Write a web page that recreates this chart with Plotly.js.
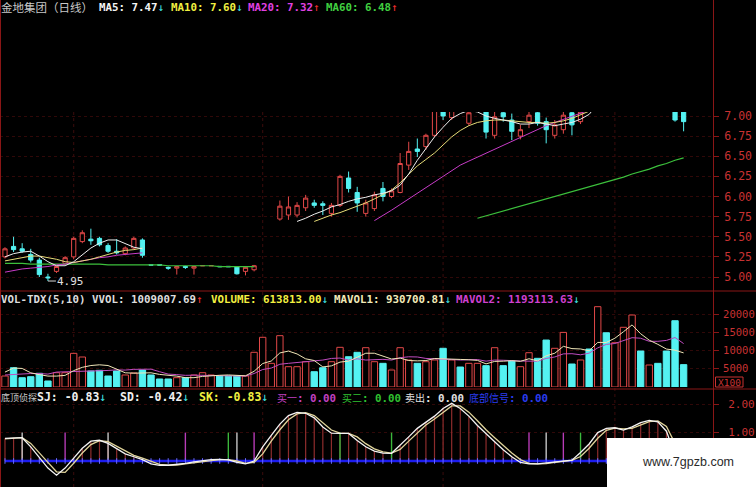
<!DOCTYPE html>
<html><head><meta charset="utf-8">
<script src="https://cdn.plot.ly/plotly-3.0.1.min.js"></script>
<style>html,body{margin:0;padding:0;background:#000;}#chart{width:756px;height:487px;}</style>
</head><body><div id="chart"></div>
<script>
// ---------------- DATA ----------------
const openP  = [5.25,5.38,5.35,5.28,5.21,5.00,5.07,5.17,5.25,5.44, 5.47,5.48,5.39,5.32,5.29,5.36,5.46,5.152,5.152,5.12,
                5.11,5.13,5.11,5.138,5.138,5.132,5.132,5.13,5.07,5.09, null,null,5.72,5.77,5.77,5.86,5.92,5.91,5.79,5.89,
                6.23,6.05,5.79,5.85,6.10,6.00,6.05,6.39,6.59,6.62, 6.76,7.20,6.98,7.30,6.91,7.08,7.15,6.76,7.04,6.95,
                6.75,6.93,7.04,6.93,6.76,6.83,7.04,6.93,7.30,null, null,null,null,null,null,null,null,null,7.10,7.08];
const highP  = [5.37,5.50,5.42,5.35,5.24,5.04,5.14,5.26,5.50,5.58, 5.60,5.50,5.42,5.47,5.38,5.50,5.48,5.152,5.152,5.13,
                5.13,5.14,5.13,5.142,5.142,5.132,5.132,5.13,5.13,5.15, null,null,5.95,6.00,5.93,6.02,5.96,5.94,5.92,6.27,
                6.31,6.12,5.96,6.06,6.18,6.10,6.54,6.68,6.72,6.78, 7.15,7.25,7.28,7.35,7.10,7.28,7.20,7.05,7.10,7.03,
                6.89,7.05,7.10,6.98,6.95,7.05,7.08,7.10,7.35,null, null,null,null,null,null,null,null,null,7.15,7.12];
const lowP   = [5.23,5.31,5.30,5.18,5.00,4.95,5.05,5.15,5.22,5.42, 5.40,5.38,5.30,5.28,5.27,5.34,5.24,5.148,5.148,5.09,
                5.03,5.10,5.03,5.138,5.138,5.128,5.128,5.03,5.02,5.07, null,null,5.70,5.71,5.74,5.82,5.86,5.77,5.75,5.87,
                6.05,5.81,5.75,5.82,5.94,5.98,6.04,6.33,6.49,6.58, 6.74,6.95,6.95,7.08,6.88,7.06,6.72,6.72,6.93,6.70,
                6.71,6.85,6.88,6.66,6.72,6.78,6.76,6.90,7.06,null, null,null,null,null,null,null,null,null,6.93,6.81];
const closeP = [5.35,5.34,5.32,5.21,5.03,4.99,5.13,5.24,5.48,5.55, 5.45,5.40,5.32,5.30,5.36,5.48,5.27,5.148,5.148,5.11,
                5.13,5.12,5.13,5.142,5.142,5.128,5.128,5.04,5.12,5.14, null,null,5.88,5.87,5.89,5.98,5.89,5.89,5.89,6.25,
                6.10,5.92,5.92,6.02,6.00,6.07,6.41,6.56,6.56,6.76, 7.10,7.00,7.20,7.12,7.04,7.22,6.80,6.99,6.99,6.81,
                6.83,7.01,6.91,6.83,6.89,7.01,6.89,7.05,7.10,null, null,null,null,null,null,null,null,null,6.95,6.93];

const ma5  = [5.25,5.29,5.31,5.32,5.26,5.19,5.14,5.14,5.19,5.27,5.36,5.42,5.46,5.46,5.41,5.37,5.35,
              null,null,null,null,null,null,null,null,null,null,null,null,null,null,null,null,null,
              5.69,5.73,5.78,5.82,5.87,5.90,5.94,5.97,5.99,6.02, 6.04,6.07,6.14,6.28,6.45,6.60,6.74,6.86,6.97,7.03,
              7.07,7.05,7.00,6.97,6.95,6.93,6.90,6.90,6.92,6.90, 6.88,6.90,6.92,6.96,7.02,7.15,7.25,7.35,7.45,7.55,
              7.62,7.68,7.70,7.65,7.58,7.47];
const ma10 = [5.20,5.22,5.24,5.26,5.26,5.24,5.22,5.19,5.18,5.20,5.22,5.25,5.28,5.31,5.33,5.34,5.36,
              null,null,null,null,null,null,null,null,null,null,null,null,null,null,null,null,null,null,null,
              5.69,5.73,5.77, 5.80,5.84,5.87,5.92,5.97,6.02,6.08,6.17,6.27,6.38, 6.46,6.54,6.64,6.74,6.82,6.88,6.92,6.94,6.95,6.95,
              6.94,6.93,6.92,6.92,6.91,6.92,6.94,6.97,7.01,7.06, 7.12,7.20,7.28,7.36,7.44,7.50,7.55,7.58,7.60,7.60];
const ma20 = [5.06,5.08,5.10,5.11,5.12,5.13,5.15,5.16,5.18,5.20,5.22,5.24,5.25,5.27,5.28,5.29,5.30,
              null,null,null,null,null,null,null,null,null,null,null,null,null,null,null,null,null,null,null,
              null,null,null,null,null,null,null,
              5.70,5.76,5.83,5.90,5.97,6.04, 6.11,6.18,6.25,6.32,6.39,6.44,6.49,6.54,6.59,6.64,
              6.69,6.74,6.79,6.84,6.88,6.92,6.96,7.00,7.04,7.08, 7.11,7.14,7.17,7.20,7.23,7.25,7.27,7.29,7.31,7.32];
const ma60 = [5.17,5.17,5.17,5.16,5.16,5.16,5.16,5.16,5.16,5.16, 5.16,5.16,5.15,5.15,5.15,5.15,5.15,5.15,5.15,5.14,
              5.14,5.14,5.14,5.14,5.14,5.13,5.13,5.13,5.13,5.13,
              null,null,null,null,null,null,null,null,null,null,null,null,null,null,null,null,null,null,null,null,null,null,null,null,null,
              5.73,5.76,5.79,5.82,5.85,5.88,5.91,5.94,5.97,6.00, 6.03,6.06,6.09,6.12,6.15,6.18,6.21,6.24,6.28,6.31,
              6.34,6.38,6.41,6.45,6.48];

// volume in hundreds of shares (X100)
const volume = [3020,5300,2550,2830,3760,1650,3930,3930,9250,8240, 4400,4580,3020,4400,3300,3850,4670,3300,2200,2200,
                2560,2560,3300,3930,3300,3020,3020,3020,3020,9530, 13650,6500,14100,5580,5580,6950,4200,5300,6950,10900,
                8320,9530,10800,6950,6500,4670,10800,7420,6500,6950, 7420,10630,7420,5490,6500,6500,5860,10800,5860,7140,
                5580,9420,7880,12900,10630,15000,6320,7420,10440,22060, 14900,12170,16400,19780,9890,6040,6500,9890,18210,6140];
const volUp  = [1,0,0,0,0,0,1,1,1,1, 0,0,0,0,1,1,0,0,0,0, 1,0,1,1,1,0,0,0,1,1, 1,1,1,1,1,1,0,0,1,1,
                0,0,1,1,0,1,1,1,0,1, 1,0,1,0,1,1,0,1,0,0, 1,1,0,0,1,1,0,1,0,1, 0,1,1,1,0,1,0,0,0,0];
const mavol1 = [4100,5200,5100,3900,3400,3000,3000,3200,4500,5400, 5900,6100,5900,4900,3900,3800,3850,3900,3460,3240,
                2990,2560,2560,2910,3130,3220,3310,3260,3080,4320, 6450,7140,9360,9870,9080,7740,7280,5520,5800,6840,
                7110,8180,9280,9280,8420,7690,7940,7270,7180,7270, 7820,7780,7780,7580,7490,7310,6350,7030,7100,7230,
                7050,7760,7180,8580,9280,11170,10550,10450,9960,12250, 12230,13400,15190,17060,14630,12860,11720,10420,10110,9370];
const mavol2 = [3300,3500,3700,3700,3700,3550,4100,4150,4200,4400, 4450,4550,4550,4700,4650,4850,4950,4900,4200,3550,
                3400,3200,3250,3200,3150,3100,2950,2900,3000,3700, 4800,5200,6250,6500,6700,7050,7200,7400,7850,7950,
                7400,7750,7400,7550,7600,7400,8050,8300,8250,7850, 7750,7850,7550,7400,7400,7550,7100,7400,7350,7350,
                7150,7100,7100,7850,8250,9100,9150,8850,9300,10750, 11700,11950,12850,13550,13400,12550,12550,12800,13600,11930];

// 底顶侦探 indicator
const sj = [0.80,0.82,0.82,0.50,0.12,-0.25,-0.50,-0.25,0.10,0.45, 0.70,0.73,0.62,0.42,0.25,0.15,0.05,-0.10,-0.15,-0.15,
            -0.12,-0.08,-0.03,0.02,0.05,0.06,0.04,-0.05,-0.10,0.00, 0.50,0.90,1.30,1.60,1.71,1.68,1.52,1.20,0.98,0.97,
            0.97,0.72,0.50,0.35,0.28,0.27,0.55,0.85,1.15,1.38, 1.58,1.85,2.03,1.85,1.58,1.25,0.95,0.68,0.40,0.15,
            -0.05,-0.10,-0.10,-0.07,-0.03,0.00,0.03,0.30,0.60,1.00, 1.15,1.17,1.09,1.20,1.35,1.43,1.38,1.05,0.20,-0.83];
const sd = [0.78,0.81,0.82,0.62,0.30,-0.05,-0.38,-0.40,-0.08,0.28, 0.58,0.72,0.68,0.52,0.34,0.20,0.10,-0.02,-0.12,-0.15,
            -0.14,-0.10,-0.06,-0.01,0.03,0.05,0.05,0.00,-0.08,-0.05, 0.25,0.70,1.10,1.45,1.66,1.70,1.60,1.36,1.09,0.98,
            0.97,0.85,0.61,0.43,0.32,0.28,0.41,0.70,1.00,1.27, 1.48,1.72,1.94,1.94,1.72,1.42,1.10,0.82,0.54,0.28,
            0.05,-0.08,-0.10,-0.09,-0.05,-0.02,0.02,0.16,0.45,0.80, 1.08,1.16,1.13,1.15,1.28,1.39,1.41,1.22,0.62,-0.42];
const buy1Idx = [7,21,29,61,65];     // 买一
const buy2Idx = [26,39,45,67];       // 买二
const sellIdx = [2,12,27,63];        // 卖出
const signalLevel = 1.0;
const monthStartIdx = [8,30,51,71];
const lowMarkIdx = 5, lowMarkValue = 4.95;

const priceTicks = [5.00,5.25,5.50,5.75,6.00,6.25,6.50,6.75,7.00];
const priceTickText = ['5.00','5.25','5.50','5.75','6.00','6.25','6.50','6.75','7.00'];
const volTicks = [5000,10000,15000,20000];
const volTickText = ['5000','10000','15000','20000'];
const indTicks = [1,2];
const indTickText = ['1.00','2.00'];

// ---------------- STYLE ----------------
const W = 756, H = 487;
const px = x => x / W;
const py = y => 1 - y / H;
const UP = '#e24848', DN = '#54f2f2';
const FRAME = '#8a1616', GRID = '#300808', TICK = '#c83232';
const MONO = 'DejaVu Sans Mono, monospace';
const CJK = 'Noto Sans CJK SC, sans-serif';
const idx = closeP.map((_, i) => i);

const traces = [];
traces.push({type:'candlestick', x:idx, open:openP, high:highP, low:lowP, close:closeP,
  xaxis:'x', yaxis:'y', whiskerwidth:0,
  increasing:{line:{color:UP,width:1}, fillcolor:'#000000'},
  decreasing:{line:{color:DN,width:1}, fillcolor:DN}, hoverinfo:'skip'});
const line = (y, color, ax, w) => ({type:'scatter', mode:'lines', x:idx, y:y, xaxis:'x', yaxis:ax,
  line:{color:color, width:w||1}, connectgaps:false, hoverinfo:'skip'});
traces.push(line(ma60, '#3cc03c', 'y', 1.2));
traces.push(line(ma20, '#c83cc8', 'y'));
traces.push(line(ma10, '#e6dc78', 'y'));
traces.push(line(ma5, '#eeeeee', 'y'));

traces.push({type:'bar', x:idx, y:volume, xaxis:'x', yaxis:'y2', width:0.74,
  marker:{color:volUp.map(u => u ? '#000000' : DN), line:{color:volUp.map(u => u ? UP : DN), width:1}}, hoverinfo:'skip'});
traces.push(line(mavol2, '#c04cc0', 'y2'));
traces.push(line(mavol1, '#f0e6b8', 'y2'));

traces.push({type:'bar', x:idx, y:sj.map(v => v > 0 ? v : 0), xaxis:'x', yaxis:'y3', width:0.14,
  marker:{color:'#8e2c2c', line:{width:0}}, hoverinfo:'skip'});
const sig = (list, color) => ({type:'bar', x:list, y:list.map(() => signalLevel), xaxis:'x', yaxis:'y3', width:0.16,
  marker:{color:color, line:{width:0}}, hoverinfo:'skip'});
traces.push(sig(buy1Idx, '#b83cb8'));
traces.push(sig(buy2Idx, '#3cb83c'));
traces.push(sig(sellIdx, '#c8c8c8'));
traces.push({type:'scatter', mode:'lines+markers', x:idx, y:idx.map(() => 0), xaxis:'x', yaxis:'y3',
  line:{color:'#1c1cf0', width:2.5}, marker:{symbol:'line-ns', size:4, color:'#6a6aff', line:{color:'#6a6aff', width:1}}, hoverinfo:'skip'});
traces.push(line(sd, '#e0d49a', 'y3', 1.3));
traces.push(line(sj, '#f4f4f4', 'y3', 1.3));

const yBase = {side:'right', anchor:'x', automargin:false, showline:false, zeroline:false,
  ticks:'outside', ticklen:5, tickcolor:FRAME, tickwidth:1,
  gridcolor:GRID, griddash:'dot', gridwidth:1, fixedrange:true};

const layout = {
  width:W, height:H, margin:{l:0, r:0, t:0, b:0, pad:0},
  paper_bgcolor:'#000000', plot_bgcolor:'#000000', showlegend:false, barmode:'overlay',
  xaxis:{domain:[0, px(713)], range:[-0.58, 82.42], visible:false, rangeslider:{visible:false}, fixedrange:true},
  yaxis:Object.assign({}, yBase, {domain:[py(290), py(112)], range:[4.8385, 7.0497],
    tickvals:priceTicks, ticktext:priceTickText, tickfont:{family:MONO, size:11.5, color:TICK}, ticklabelstandoff:3}),
  yaxis2:Object.assign({}, yBase, {domain:[py(387), py(296)], range:[0, 25000],
    tickvals:volTicks, ticktext:volTickText, tickfont:{family:MONO, size:10.5, color:TICK}, ticklabelstandoff:2}),
  yaxis3:Object.assign({}, yBase, {domain:[0, py(400)], range:[-0.915, 2.148],
    tickvals:indTicks, ticktext:indTickText, tickfont:{family:MONO, size:11, color:TICK}, ticklabelstandoff:7}),
  shapes:[], annotations:[]
};

// frame / separators
const hline = y => ({type:'line', xref:'paper', yref:'paper', x0:0, x1:1, y0:py(y), y1:py(y), line:{color:FRAME, width:1}});
layout.shapes.push(hline(291), hline(389));
layout.shapes.push({type:'line', xref:'paper', yref:'paper', x0:px(713.5), x1:px(713.5), y0:0, y1:1, line:{color:FRAME, width:1}});
layout.shapes.push({type:'line', xref:'paper', yref:'paper', x0:px(0.5), x1:px(0.5), y0:0, y1:1, line:{color:FRAME, width:1}});
monthStartIdx.forEach(i => layout.shapes.push({type:'line', xref:'x', yref:'paper', x0:i, x1:i, y0:0, y1:py(112),
  line:{color:'#3a0c0c', width:1, dash:'dot'}, layer:'below'}));
// watermark box
layout.shapes.push({type:'rect', xref:'paper', yref:'paper', x0:px(607), x1:1, y0:0, y1:py(438),
  fillcolor:'#ffffff', line:{width:0}, layer:'above'});
layout.shapes.push({type:'rect', xref:'paper', yref:'paper', x0:px(715.5), x1:px(743), y0:py(387), y1:py(377),
  line:{color:TICK, width:1}, layer:'above'});

const ann = (text, x, y, color, size, family) => ({xref:'paper', yref:'paper', x:px(x), y:py(y), xanchor:'left', yanchor:'middle',
  text:text, showarrow:false, borderpad:0, font:{family:family || MONO, size:size, color:color}});
const arr = (ch, c) => '<span style="color:' + c + '">' + ch + '</span>';
const cjk = t => '<span style="font-family:Noto Sans CJK SC;font-size:10px">' + t + '</span>';
const CY = '#40e8e8', RD = '#ff3030';
// row 1
layout.annotations.push(ann('金地集团（日线）', 0, 7, '#c8c8c8', 11.5, CJK));
layout.annotations.push(ann('<b>MA5: 7.47</b>' + arr('↓', CY), 98, 7, '#f4f4f4', 10.8));
layout.annotations.push(ann('<b>MA10: 7.60</b>' + arr('↓', CY), 170, 7, '#f0f040', 10.8));
layout.annotations.push(ann('<b>MA20: 7.32</b>' + arr('↑', RD), 247, 7, '#e040e0', 10.8));
layout.annotations.push(ann('<b>MA60: 6.48</b>' + arr('↑', RD), 325, 7, '#40d040', 10.8));
// row 2
layout.annotations.push(ann('<b>VOL-TDX(5,10) VVOL: 1009007.69</b>' + arr('↑', RD), 0, 299, '#dcdcdc', 10.8));
layout.annotations.push(ann('<b>VOLUME: 613813.00</b>' + arr('↓', CY), 210, 299, '#f4f040', 10.8));
layout.annotations.push(ann('<b>MAVOL1: 930700.81</b>' + arr('↓', CY), 333, 299, '#f2eab8', 10.8));
layout.annotations.push(ann('<b>MAVOL2: 1193113.63</b>' + arr('↓', CY), 455, 299, '#d040d0', 10.8));
// row 3
layout.annotations.push(ann('底顶侦探', 0, 397, '#c8c8c8', 9, CJK));
layout.annotations.push(ann('<b>SJ: -0.83</b>' + arr('↓', CY), 36, 397, '#f0f0f0', 11.5));
layout.annotations.push(ann('<b>SD: -0.42</b>' + arr('↓', CY), 119, 397, '#f0f0f0', 11.5));
layout.annotations.push(ann('<b>SK: -0.83</b>' + arr('↓', CY), 198, 397, '#f0f040', 11.5));
layout.annotations.push(ann(cjk('买一') + '<b>: 0.00</b>', 276, 397, '#c040c0', 10.8));
layout.annotations.push(ann(cjk('买二') + '<b>: 0.00</b>', 341, 397, '#30c030', 10.8));
layout.annotations.push(ann(cjk('卖出') + '<b>: 0.00</b>', 404, 397, '#e0e0e0', 10.8));
layout.annotations.push(ann(cjk('底部信号') + '<b>: 0.00</b>', 468, 397, '#2a3cf0', 10.8));
// X100 and watermark
layout.annotations.push({xref:'paper', yref:'paper', x:px(729), y:py(382), xanchor:'center', yanchor:'middle',
  text:'X100', showarrow:false, font:{family:MONO, size:9.5, color:TICK}});
layout.annotations.push({xref:'paper', yref:'paper', x:px(688), y:py(462), xanchor:'center', yanchor:'middle',
  text:'www.7gpzb.com', showarrow:false, font:{family:'Liberation Sans, Arial, sans-serif', size:12.5, color:'#2a2a2a'}});
// low marker
layout.annotations.push({xref:'x', yref:'y', x:lowMarkIdx, y:lowMarkValue, text:'4.95', showarrow:true, arrowhead:0,
  arrowwidth:1, arrowcolor:'#d8d8d8', ax:23, ay:0, font:{family:MONO, size:11, color:'#e0e0e0'}});

Plotly.newPlot('chart', traces, layout, {staticPlot:true, displayModeBar:false});
</script>
</body></html>
